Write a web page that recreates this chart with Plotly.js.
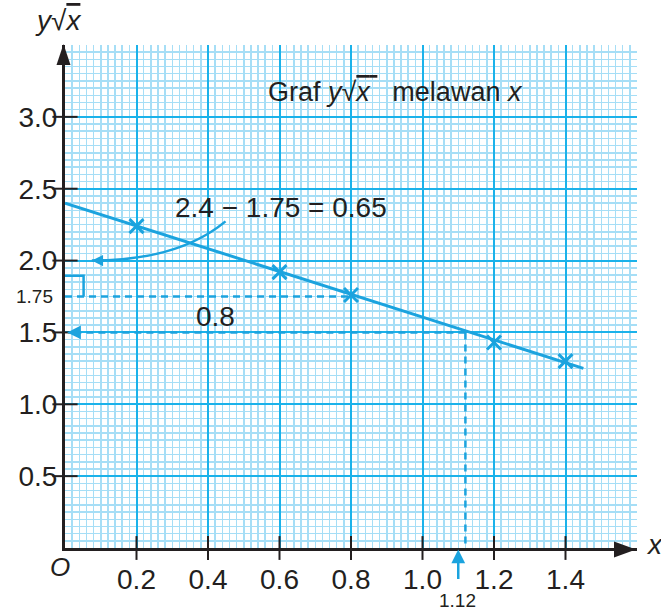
<!DOCTYPE html>
<html>
<head>
<meta charset="utf-8">
<script src="https://cdn.plot.ly/plotly-3.0.1.min.js"></script>
<style>
  html, body { margin: 0; padding: 0; background: #ffffff; }
  #chart { width: 661px; height: 613px; }
</style>
</head>
<body>
<div id="chart"></div>
<script>
// ---- data ----
const tickX = [0.2, 0.4, 0.6, 0.8, 1.0, 1.2, 1.4];
const tickXText = ['0.2', '0.4', '0.6', '0.8', '1.0', '1.2', '1.4'];
const tickY = [0.5, 1.0, 1.5, 2.0, 2.5, 3.0];
const tickYText = ['0.5', '1.0', '1.5', '2.0', '2.5', '3.0'];

const pointX = [0.2, 0.6, 0.8, 1.2, 1.4];
const pointY = [2.24, 1.92, 1.76, 1.43, 1.30];

const lineX = [0, 1.45];
const lineY = [2.4, 1.25];

const dash175X = [0, 0.8];
const dash175Y = [1.75, 1.75];
const dash15X = [1.12, 0.01];
const dash15Y = [1.5, 1.5];
const dash112X = [1.12, 1.12];
const dash112Y = [1.5, 0];

const bracketX = [0, 0.052, 0.052];
const bracketY = [1.895, 1.895, 1.75];

// ---- styles ----
const BLUE = '#1ba3de';
const INK = '#231f20';
const FONT = '"Liberation Sans", Arial, Helvetica, sans-serif';
const MAJOR = '#1ab2ea';
const MINOR = '#a6def6';
const FS = 28;

const dashLine = { color: BLUE, width: 2.5, dash: '7px,5px' };

const traces = [
  { x: dash175X, y: dash175Y, mode: 'lines', line: dashLine, hoverinfo: 'skip' },
  { x: dash15X, y: dash15Y, mode: 'lines', line: dashLine, hoverinfo: 'skip' },
  { x: dash112X, y: dash112Y, mode: 'lines', line: dashLine, hoverinfo: 'skip' },
  { x: bracketX, y: bracketY, mode: 'lines', line: { color: BLUE, width: 2.5 }, hoverinfo: 'skip' },
  { x: lineX, y: lineY, mode: 'lines', line: { color: BLUE, width: 3 } },
  { x: pointX, y: pointY, mode: 'markers',
    marker: { symbol: 'x-thin-open', size: 14, line: { color: BLUE, width: 3 }, color: BLUE } },
  // tick marks crossing the axes
  { x: tickX, y: tickX.map(() => 0), mode: 'markers', cliponaxis: false, hoverinfo: 'skip',
    marker: { symbol: 'line-ns-open', size: 17, color: INK, line: { color: INK, width: 2 } } },
  { x: tickY.map(() => 0), y: tickY, mode: 'markers', cliponaxis: false, hoverinfo: 'skip',
    marker: { symbol: 'line-ew-open', size: 18, color: INK, line: { color: INK, width: 2 } } },
  // carriers for the overlay label axes
  { x: [], y: [], xaxis: 'x2', yaxis: 'y', mode: 'markers', hoverinfo: 'skip' },
  { x: [], y: [], xaxis: 'x', yaxis: 'y2', mode: 'markers', hoverinfo: 'skip' }
];

const labelAxisBase = {
  showgrid: false, zeroline: false, showline: false,
  tickfont: { family: FONT, size: FS, color: INK },
  fixedrange: true, ticks: 'outside', tickwidth: 1, tickcolor: 'rgba(0,0,0,0)'
};

const annData = (text, x, y, size, extra) => Object.assign({
  text: text, x: x, y: y, xref: 'x', yref: 'y', showarrow: false,
  xanchor: 'center', yanchor: 'middle',
  font: { family: FONT, size: size, color: INK }
}, extra || {});
const annPaper = (text, x, y, size, extra) => Object.assign({
  text: text, x: x, y: y, xref: 'paper', yref: 'paper', showarrow: false,
  xanchor: 'center', yanchor: 'middle',
  font: { family: FONT, size: size, color: INK }
}, extra || {});

const layout = {
  width: 661, height: 613,
  margin: { l: 65, r: 24, t: 45, b: 65, pad: 0 },
  paper_bgcolor: '#ffffff', plot_bgcolor: '#ffffff',
  showlegend: false,
  xaxis: {
    range: [0, 1.6], tickmode: 'linear', tick0: 0, dtick: 0.2,
    showgrid: true, gridcolor: MAJOR, gridwidth: 2,
    minor: { tick0: 0, dtick: 0.02, showgrid: true, gridcolor: MINOR, gridwidth: 1.5 },
    ticks: '', showticklabels: false, zeroline: false,
    showline: true, linecolor: INK, linewidth: 3, fixedrange: true
  },
  yaxis: {
    range: [0, 3.5], tickmode: 'linear', tick0: 0, dtick: 0.5,
    showgrid: true, gridcolor: MAJOR, gridwidth: 2,
    minor: { tick0: 0, dtick: 0.05, showgrid: true, gridcolor: MINOR, gridwidth: 1.5 },
    ticks: '', showticklabels: false, zeroline: false,
    showline: true, linecolor: INK, linewidth: 3, fixedrange: true
  },
  xaxis2: Object.assign({}, labelAxisBase, {
    overlaying: 'x', anchor: 'y', side: 'bottom', range: [0, 1.6],
    tickmode: 'array', tickvals: tickX, ticktext: tickXText, ticklen: 6
  }),
  yaxis2: Object.assign({}, labelAxisBase, {
    overlaying: 'y', anchor: 'x', side: 'left', range: [0, 3.5],
    tickmode: 'array', tickvals: tickY, ticktext: tickYText, ticklen: 1
  }),
  shapes: [
    // curved pointer from the difference label to 2.0 on the y axis
    { type: 'path', xref: 'x', yref: 'y', path: 'M 0.449,2.273 Q 0.317,2.0 0.075,2.0',
      line: { color: BLUE, width: 2.5 } },
    // axis arrowheads
    { type: 'path', xref: 'paper', yref: 'paper', xsizemode: 'pixel', ysizemode: 'pixel',
      xanchor: 0, yanchor: 1, path: 'M -1.5,1 L -8.5,-20 L 5.5,-20 Z',
      fillcolor: INK, line: { width: 0 } },
    { type: 'path', xref: 'paper', yref: 'paper', xsizemode: 'pixel', ysizemode: 'pixel',
      xanchor: 1, yanchor: 0, path: 'M -1,-1.5 L -23,6.5 L -23,-9.5 Z',
      fillcolor: INK, line: { width: 0 } }
  ],
  annotations: [
    annData('Graf <i>y</i>√<span style="text-decoration:overline"><i>x</i> </span>  melawan <i>x</i>', 0.925, 3.17, FS - 1),
    annData('2.4 − 1.75 = 0.65', 0.603, 2.37, FS),
    annData('0.8', 0.42, 1.61, FS),
    annPaper('1.75', -0.0175, 0.5, 19, { xanchor: 'right', yref: 'y', y: 1.75 }),
    annPaper('1.12', 0.687, -0.105, 19),
    annPaper('<i>O</i>', -0.009, -0.038, 26),
    annPaper('<i>x</i>', 1.031, 0.006, FS),
    annPaper('<i>y</i>√<span style="text-decoration:overline"><i>x</i></span>', -0.012, 1.048, FS),
    // arrowheads
    { x: 0.075, y: 2.0, xref: 'x', yref: 'y', ax: 14, ay: 0, text: '', showarrow: true,
      arrowhead: 2, arrowsize: 0.9, arrowwidth: 2.5, arrowcolor: BLUE },
    { x: 0.006, y: 1.5, xref: 'x', yref: 'y', ax: 14, ay: 0, text: '', showarrow: true,
      arrowhead: 2, arrowsize: 1.1, arrowwidth: 2.5, arrowcolor: BLUE },
    { x: 1.1, y: -0.003, xref: 'x', yref: 'paper', ax: 0, ay: 31, text: '', showarrow: true,
      arrowhead: 2, arrowsize: 1.1, arrowwidth: 2.5, arrowcolor: BLUE }
  ]
};

Plotly.newPlot('chart', traces, layout, { displayModeBar: false, staticPlot: true });
</script>
</body>
</html>
